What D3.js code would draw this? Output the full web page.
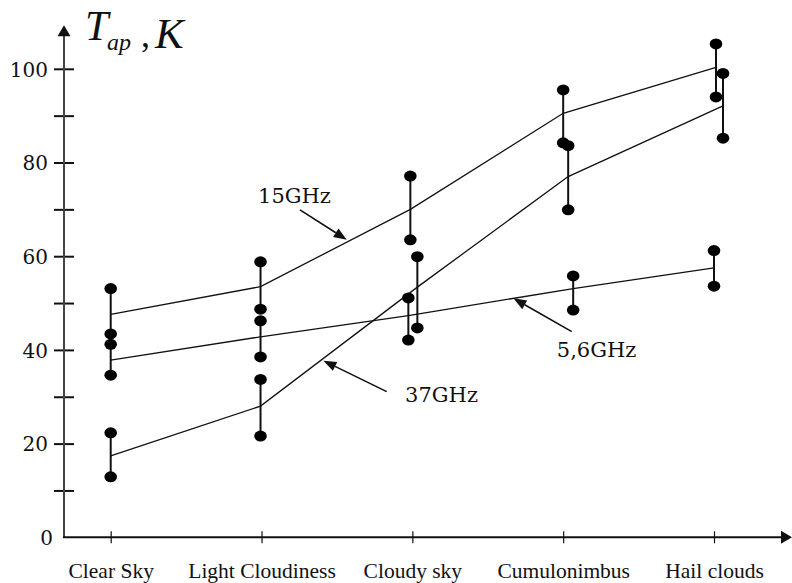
<!DOCTYPE html>
<html>
<head>
<meta charset="utf-8">
<script src="https://cdn.jsdelivr.net/npm/d3@7/dist/d3.min.js"></script>
<style>
  html, body { margin: 0; padding: 0; background: #fff; }
  svg { display: block; }
</style>
</head>
<body>
<svg id="chart" width="792" height="583"></svg>
<script>
// ---------------- DATA ----------------
const categories = ["Clear Sky", "Light Cloudiness", "Cloudy sky", "Cumulonimbus", "Hail clouds"];
const yTicks = [10, 20, 30, 40, 50, 60, 70, 80, 90, 100];
const yLabels = [20, 40, 60, 80, 100];

// 15 GHz
const upper15 = [53.1, 58.8, 77.1, 95.5, 105.3];
const lower15 = [43.4, 48.7, 63.5, 84.2, 94.0];
const mean15  = [47.6, 53.5, 70.0, 90.5, 100.3];
// 5,6 GHz
const upper56 = [41.2, 46.2, 51.1, 55.8, 61.2];
const lower56 = [34.6, 38.5, 42.1, 48.5, 53.6];
const mean56  = [37.8, 42.8, 47.3, 53.1, 57.5];
// 37 GHz
const upper37 = [22.3, 33.7, 59.9, 83.6, 99.0];
const lower37 = [12.9, 21.6, 44.7, 69.9, 85.2];
const mean37  = [17.4, 28.0, 53.4, 77.0, 92.1];

const seriesNames = ["15GHz", "5,6GHz", "37GHz"];

// ---------------- LAYOUT (px, styling) ----------------
const xOffsets = {               // small horizontal shifts of each bar, px
  "15GHz":  [0, -1, -2, 0, 2],
  "5,6GHz": [0, -1, -4, 10, 0],
  "37GHz":  [0, -1, 5, 5, 9]
};

const series = [
  { name: "15GHz",  upper: upper15, lower: lower15, mean: mean15 },
  { name: "5,6GHz", upper: upper56, lower: lower56, mean: mean56 },
  { name: "37GHz",  upper: upper37, lower: lower37, mean: mean37 }
];

// annotations: label position (category-index, value) and arrow (from -> to)
const annotations = [
  { text: "15GHz",  tx: 0.977, ty: 71.4, fx: 1.255, fy: 69.9, toX: 1.565, toY: 63.5 },
  { text: "37GHz",  tx: 1.952, ty: 28.9, fx: 1.830, fy: 31.1, toX: 1.410, toY: 37.7 },
  { text: "5,6GHz", tx: 2.958, ty: 38.5, fx: 3.057, fy: 43.9, toX: 2.670, toY: 51.0 }
];

// ---------------- SCALES ----------------
const svg = d3.select("#chart");
const axisX0 = 64, axisY0 = 537.3;
const x = d3.scalePoint().domain(categories).range([110.7, 714]);
const xi = d3.scaleLinear().domain([0, categories.length - 1]).range([110.7, 714]);
const y = d3.scaleLinear().domain([0, 100]).range([axisY0, 68.8]);
const yAxisTopValue = 109.3;

const serif = "'DejaVu Serif', serif";
const times = "'Liberation Serif', 'Times New Roman', serif";

// ---------------- AXES ----------------
const yAxis = d3.axisLeft(y)
  .tickValues(yTicks)
  .tickSizeInner(10).tickSizeOuter(0).tickPadding(6)
  .tickFormat(d => yLabels.includes(d) ? d : "");
const gy = svg.append("g").attr("transform", `translate(${axisX0},0)`).call(yAxis);
gy.select(".domain").remove();
gy.selectAll(".tick line").attr("x1", -10).attr("x2", 10)
  .attr("stroke", "#111").attr("stroke-width", 2);
gy.selectAll(".tick text").attr("font-family", serif).attr("font-size", 20)
  .attr("fill", "#111").attr("dy", "0.36em");

svg.append("text").attr("x", axisX0 - 11).attr("y", y(0) + 8)
  .attr("text-anchor", "end").attr("font-family", serif).attr("font-size", 20)
  .attr("fill", "#111").text("0");

const yTop = y(yAxisTopValue);
svg.append("line").attr("x1", axisX0).attr("x2", axisX0)
  .attr("y1", axisY0).attr("y2", yTop + 8)
  .attr("stroke", "#444").attr("stroke-width", 2);
svg.append("path")
  .attr("d", `M${axisX0},${yTop} L${axisX0 - 6.5},${yTop + 11} L${axisX0 + 6.5},${yTop + 11} Z`)
  .attr("fill", "#111");

const xAxis = d3.axisBottom(x).tickSizeInner(6).tickSizeOuter(0).tickPadding(19);
const gx = svg.append("g").attr("transform", `translate(0,${axisY0})`).call(xAxis);
gx.select(".domain").remove();
gx.selectAll(".tick line").attr("y1", -6).attr("y2", 6).attr("stroke", "#111").attr("stroke-width", 1.2);
gx.selectAll(".tick text").attr("font-family", times).attr("font-size", 21.5).attr("fill", "#111");

svg.append("line").attr("x1", axisX0 - 1).attr("x2", 786)
  .attr("y1", axisY0).attr("y2", axisY0)
  .attr("stroke", "#111").attr("stroke-width", 2);
svg.append("path")
  .attr("d", `M792,${axisY0} L781,${axisY0 - 6.5} L781,${axisY0 + 6.5} Z`)
  .attr("fill", "#111");

// Y axis title T_ap, K
const title = svg.append("text").attr("font-family", times).attr("font-style", "italic").attr("fill", "#111");
title.append("tspan").attr("x", 85).attr("y", 40).attr("font-size", 42).text("T");
title.append("tspan").attr("x", 107).attr("y", 50).attr("font-size", 24).text("ap");
svg.append("text").attr("x", 141).attr("y", 47).attr("font-family", times)
  .attr("font-size", 36).attr("fill", "#111").text(",");
svg.append("text").attr("x", 155).attr("y", 48).attr("font-family", times).attr("font-style", "italic")
  .attr("font-size", 43).attr("fill", "#111").text("K");

// ---------------- MARKS ----------------
const px = (s, i) => x(categories[i]) + xOffsets[s.name][i];
const line = d3.line().x(d => d.x).y(d => d.y);

series.forEach(s => {
  const pts = categories.map((c, i) => ({ x: px(s, i), y: y(s.mean[i]) }));
  svg.append("path").attr("d", line(pts)).attr("fill", "none")
    .attr("stroke", "#111").attr("stroke-width", 1.3);
});

series.forEach(s => {
  const g = svg.append("g");
  categories.forEach((c, i) => {
    g.append("line").attr("x1", px(s, i)).attr("x2", px(s, i))
      .attr("y1", y(s.upper[i])).attr("y2", y(s.lower[i]))
      .attr("stroke", "#111").attr("stroke-width", 2);
    [s.upper[i], s.lower[i]].forEach(v => {
      g.append("ellipse").attr("cx", px(s, i)).attr("cy", y(v))
        .attr("rx", 6.3).attr("ry", 5.5).attr("fill", "#000");
    });
  });
});

// ---------------- ANNOTATIONS ----------------
annotations.forEach(a => {
  const x1 = xi(a.fx), y1 = y(a.fy), x2 = xi(a.toX), y2 = y(a.toY);
  const ang = Math.atan2(y2 - y1, x2 - x1);
  const L = 13, W = 5;
  const bx = x2 - L * Math.cos(ang), by = y2 - L * Math.sin(ang);
  svg.append("line").attr("x1", x1).attr("y1", y1).attr("x2", bx).attr("y2", by)
    .attr("stroke", "#111").attr("stroke-width", 1.6);
  svg.append("path")
    .attr("d", `M${x2},${y2} L${bx + W * Math.sin(ang)},${by - W * Math.cos(ang)} L${bx - W * Math.sin(ang)},${by + W * Math.cos(ang)} Z`)
    .attr("fill", "#111");
  svg.append("text").attr("x", xi(a.tx)).attr("y", y(a.ty))
    .attr("font-family", serif).attr("font-size", 21).attr("fill", "#111").text(a.text);
});
</script>
</body>
</html>
